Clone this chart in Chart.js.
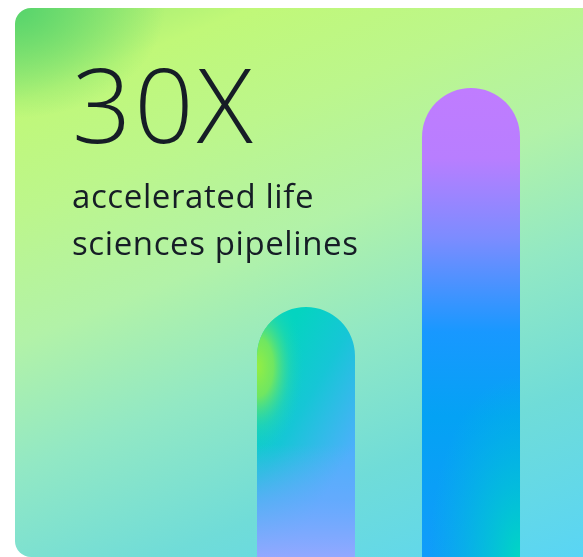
<!DOCTYPE html>
<html>
<head>
<meta charset="utf-8">
<script src="https://cdn.jsdelivr.net/npm/chart.js@4"></script>
<style>
    html, body { margin: 0; padding: 0; width: 583px; height: 557px; overflow: hidden; background: #ffffff; }
    #card {
        position: absolute; left: 15px; top: 8px; width: 620px; height: 549px;
        border-radius: 16px; overflow: hidden;
        background:
            radial-gradient(ellipse 150px 110px at 0px 0px, rgba(86, 212, 108, 1) 0%, rgba(86, 212, 108, 0) 100%),
            linear-gradient(158deg, #9ae870 0%, #c0f878 12%, #bcf68c 26%, #b2f2a8 42%, #92e8c4 58%, #70dcd8 76%, #56d4f8 100%);
    }
    #wrap { position: absolute; left: 0; top: 0; width: 583px; height: 557px; }
    .txt { position: absolute; left: 72px; color: #161d26; font-family: "Open Sans", sans-serif; white-space: nowrap; }
    #big { top: 51px; font-size: 104px; font-weight: 300; line-height: 1; letter-spacing: 3px; }
    #sub { top: 172px; font-size: 33px; font-weight: 400; line-height: 47px; letter-spacing: 0.6px; }
</style>
</head>
<body>
<div id="card"></div>
<div id="wrap"><canvas id="barChart" width="583" height="557"></canvas></div>
<div class="txt" id="big">30X</div>
<div class="txt" id="sub">accelerated life<br>sciences pipelines</div>
<script>
// Data (bar heights as share of the panel height)
const categories = ['Before', 'After'];
const barValues = [44.9, 84.2];

// Base gradient for each bar
function barFill(context) {
    const chart = context.chart;
    const area = chart.chartArea;
    if (!area) return null;
    const ctx = chart.ctx;
    const x = chart.scales.x.getPixelForValue(context.dataIndex);
    const top = chart.scales.y.getPixelForValue(barValues[context.dataIndex]);
    let g;
    if (context.dataIndex === 0) {
        // teal on the left, blue on the right
        g = ctx.createLinearGradient(x - 40, top + 60, x + 60, top + 120);
        g.addColorStop(0, '#04d4c0');
        g.addColorStop(0.45, '#16c6d6');
        g.addColorStop(1, '#4cb0fa');
    } else {
        g = ctx.createLinearGradient(0, top, 0, area.bottom);
        g.addColorStop(0, '#c07cff');
        g.addColorStop(0.15, '#b87eff');
        g.addColorStop(0.32, '#7c8cff');
        g.addColorStop(0.52, '#1898ff');
        g.addColorStop(0.7, '#04a2f4');
        g.addColorStop(1, '#109cfa');
    }
    return g;
}

// Extra colour spots painted inside each bar
const barGlow = {
    id: 'barGlow',
    afterDatasetsDraw(chart) {
        const ctx = chart.ctx;
        const meta = chart.getDatasetMeta(0);
        meta.data.forEach((bar, i) => {
            const p = bar.getProps(['x', 'y', 'width', 'base'], true);
            const left = p.x - p.width / 2, right = p.x + p.width / 2, r = p.width / 2;
            const h = p.base - p.y;
            ctx.save();
            ctx.beginPath();
            ctx.moveTo(left, p.base);
            ctx.lineTo(left, p.y + r);
            ctx.arc(p.x, p.y + r, r, Math.PI, 0);
            ctx.lineTo(right, p.base);
            ctx.closePath();
            ctx.clip();
            if (i === 0) {
                // lavender towards the bottom
                let g = ctx.createLinearGradient(0, p.y + h * 0.55, 0, p.base);
                g.addColorStop(0, 'rgba(110, 168, 255, 0)');
                g.addColorStop(0.5, 'rgba(110, 168, 255, 0.7)');
                g.addColorStop(1, 'rgba(146, 168, 255, 1)');
                ctx.fillStyle = g;
                ctx.fillRect(left, p.y, p.width, h);
                // lime spot on the left edge
                ctx.save();
                ctx.translate(left, p.y + 60);
                ctx.scale(0.55, 1);
                g = ctx.createRadialGradient(0, 0, 0, 0, 0, 85);
                g.addColorStop(0, 'rgba(150, 238, 66, 1)');
                g.addColorStop(0.35, 'rgba(130, 234, 80, 0.85)');
                g.addColorStop(0.7, 'rgba(60, 220, 150, 0.35)');
                g.addColorStop(1, 'rgba(20, 212, 190, 0)');
                ctx.fillStyle = g;
                ctx.fillRect(-10, -100, 220, 200);
                ctx.restore();
            } else {
                // teal in the lower right corner
                ctx.save();
                ctx.translate(right, p.base);
                ctx.scale(0.7, 1.4);
                let g = ctx.createRadialGradient(0, 0, 0, 0, 0, 130);
                g.addColorStop(0, 'rgba(0, 214, 196, 1)');
                g.addColorStop(0.5, 'rgba(0, 200, 210, 0.55)');
                g.addColorStop(1, 'rgba(0, 190, 220, 0)');
                ctx.fillStyle = g;
                ctx.fillRect(-200, -200, 200, 200);
                ctx.restore();
            }
            ctx.restore();
        });
    }
};

const ctx = document.getElementById('barChart').getContext('2d');
new Chart(ctx, {
    type: 'bar',
    data: {
        labels: categories,
        datasets: [{
            data: barValues,
            backgroundColor: barFill,
            borderWidth: 0,
            borderRadius: { topLeft: 60, topRight: 60, bottomLeft: 0, bottomRight: 0 },
            borderSkipped: 'bottom',
            barPercentage: 1,
            categoryPercentage: 0.594
        }]
    },
    options: {
        responsive: false,
        animation: false,
        layout: { padding: { left: 223.5, right: 29.5, top: 0, bottom: 0 } },
        scales: {
            x: { display: false },
            y: { display: false, min: 0, max: 100 }
        },
        plugins: {
            legend: { display: false },
            tooltip: { enabled: false }
        }
    },
    plugins: [barGlow]
});
</script>
</body>
</html>
